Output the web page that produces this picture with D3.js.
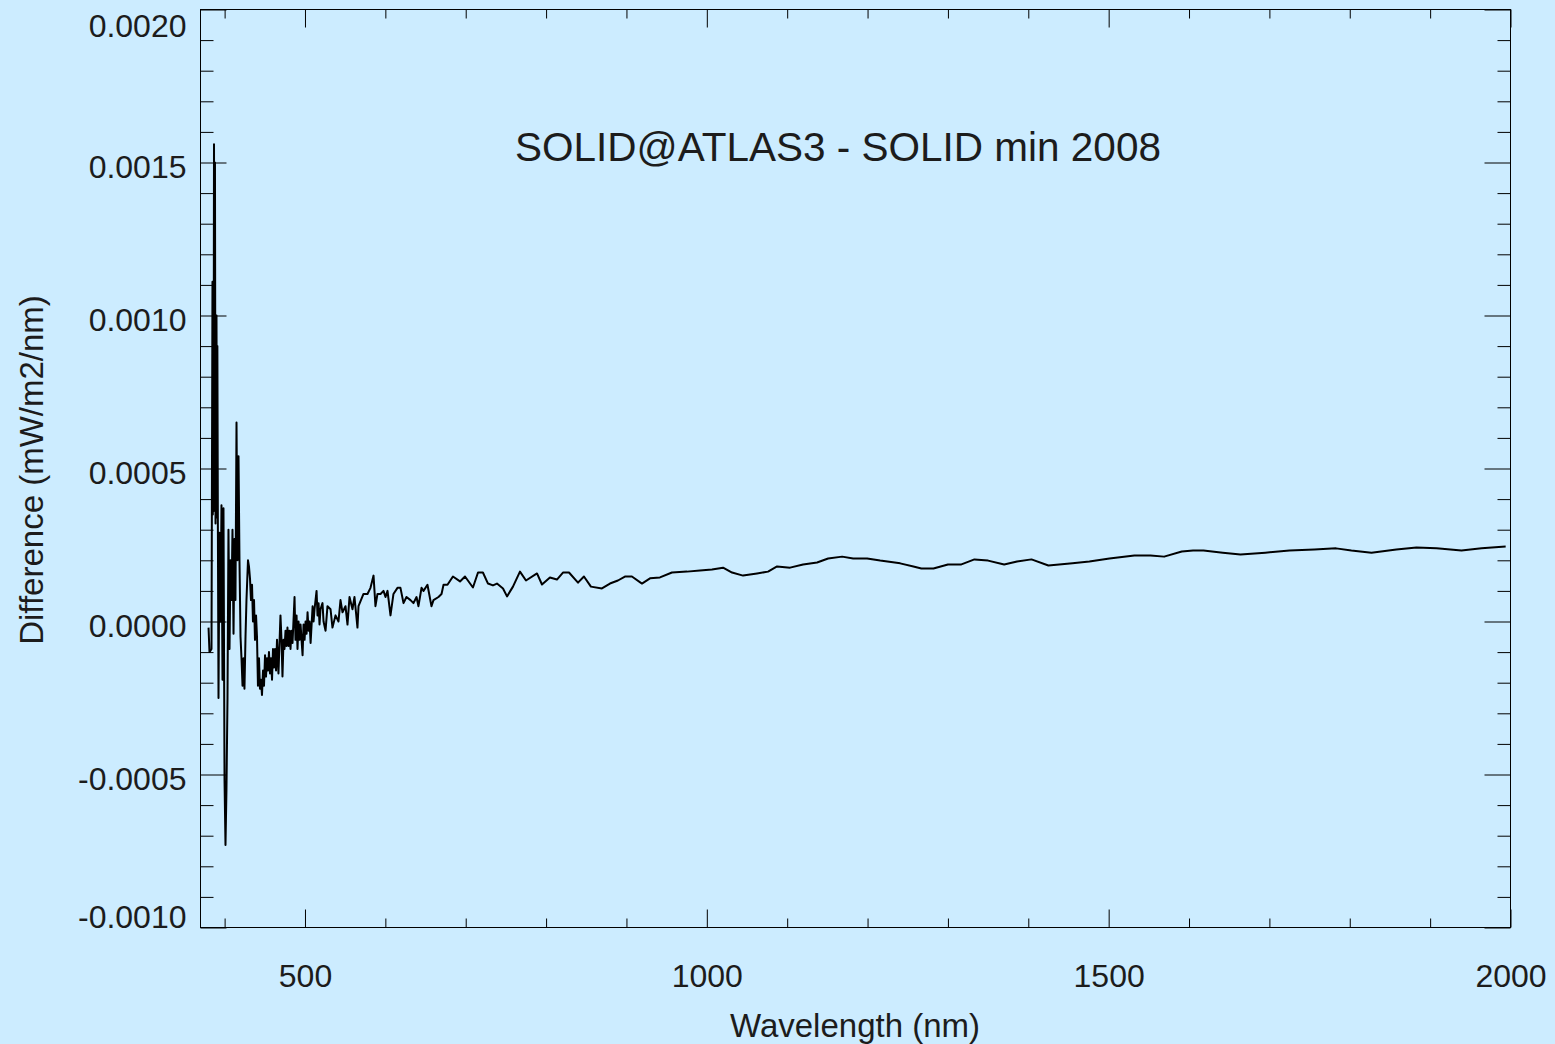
<!DOCTYPE html>
<html>
<head>
<meta charset="utf-8">
<script src="https://cdn.jsdelivr.net/npm/d3@7"></script>
<style>
  html, body { margin: 0; padding: 0; background: #ccecff; }
  svg { display: block; }
</style>
</head>
<body>
<svg id="chart" width="1555" height="1044"></svg>
<script>
// ---------------- data ----------------
const wavelength = [
  380.0, 381.2, 383.7, 384.9, 385.3, 385.7, 386.2, 386.8, 387.4, 388.0,
  388.7, 389.3, 389.9, 390.5, 391.0, 391.6, 392.4, 393.6, 394.9, 396.1,
  397.4, 398.6, 399.9, 401.1, 402.3,
  403.6, 404.8, 406.1, 407.3, 408.6, 409.8, 411.1, 412.3, 413.5, 414.8,
  416.0, 417.3, 418.5, 419.8, 421.0, 422.3, 423.5, 424.7, 426.0, 427.2,
  429.1, 430.3, 431.6, 432.8, 434.1, 435.3, 436.6, 437.8, 439.1, 440.3,
  441.5, 442.8, 444.0, 445.3, 446.5, 447.8, 449.0, 450.3, 451.5, 452.7,
  454.0, 455.2, 456.5, 457.7, 459.0, 460.2, 461.5, 462.7, 464.0, 465.2,
  467.0, 469.5, 470.8, 472.0, 473.3, 474.5, 475.8, 477.0, 478.2, 479.5,
  480.7, 482.0, 483.2, 484.5, 487.0, 488.2, 489.5, 490.7, 492.0, 493.2,
  494.5, 497.0, 498.2, 499.5, 500.7, 502.0, 503.2, 504.5, 505.7, 507.0,
  509.5, 510.7, 511.9, 514.4, 515.6, 516.9, 518.1, 519.3, 521.8, 523.1,
  525.6, 528.0, 531.8, 534.2, 538.0, 541.7, 544.2, 546.7, 550.4, 552.9,
  555.4, 559.1, 561.6, 565.3, 566.6, 572.8, 577.8, 581.5, 585.3, 587.7,
  590.2, 594.0, 597.7, 600.2, 602.7, 606.4, 610.1, 615.1, 618.8, 622.6,
  626.3, 631.3, 635.0, 638.8, 641.2, 645.0, 647.5, 652.4, 657.4, 659.9,
  666.1, 669.9, 672.4, 677.3, 684.1, 692.9, 699.1, 709.0, 715.3, 721.4,
  727.7, 733.9, 738.9, 746.4, 751.4, 758.8, 767.5, 775.0, 788.7, 794.9,
  804.8, 813.5, 821.0, 828.5, 839.7, 847.1, 855.8, 869.5, 879.5, 889.4,
  898.1, 906.8, 919.3, 929.3, 941.7, 956.6, 975.3, 991.5, 1006.4, 1020.2,
  1031.4, 1045.1, 1062.5, 1076.2, 1087.4, 1103.6, 1119.8, 1137.2, 1150.9, 1168.4,
  1182.1, 1199.5, 1215.7, 1240.6, 1257, 1267, 1282, 1300, 1316, 1333,
  1350, 1370, 1386, 1404, 1425, 1455, 1476, 1501, 1532, 1552,
  1569, 1591, 1605, 1618, 1642, 1664, 1695, 1725, 1756, 1783,
  1802, 1827, 1858, 1883, 1908, 1939, 1964, 1994
];
const difference = [
  -0.00002, -0.00010, -0.00009, 0.00111, 0.00035, 0.00095, 0.00036, 0.00156, 0.00088, 0.00150,
  0.00032, 0.00092, 0.00100, 0.00034, 0.00090, 0.00033, -0.00025, 0.00029, 0.00000, 0.00038,
  -0.00019, 0.00037, -0.00052, -0.00073, -0.00055,
  -0.00025, 0.00030, -0.00009, 0.00020, 0.00007, 0.00030, -0.00004, 0.00027, 0.00007, 0.00065,
  0.00020, 0.00054, 0.00020, -0.00005, -0.00012, -0.00021, -0.00012, -0.00022, -0.00005, 0.00007,
  0.00020, 0.00018, 0.00014, 0.00007, 0.00012, 0.00000, 0.00007, -0.00006, 0.00002, -0.00005,
  -0.00021, -0.00012, -0.00022, -0.00019, -0.00024, -0.00016, -0.00021, -0.00011, -0.00018, -0.00012,
  -0.00016, -0.00010, -0.00017, -0.00012, -0.00019, -0.00009, -0.00015, -0.00009, -0.00016, -0.00006,
  -0.00017, 0.00002, -0.00006, -0.00018, -0.00006, -0.00009, -0.00003, -0.00008, -0.00002, -0.00008,
  -0.00003, -0.00009, -0.00003, -0.00007, 0.00008, -0.00006, 0.00002, -0.00009, 0.00000, -0.00006,
  -0.00001, -0.00011, -0.00001, -0.00006, 0.00000, -0.00004, 0.00003, -0.00003, 0.00000, -0.00007,
  0.00005, 0.00000, 0.00004, 0.00010, 0.00002, 0.00006, -0.00001, 0.00004, 0.00006, 0.00000,
  -0.00003, 0.00005, 0.00004, -0.00002, 0.00002, 0.00000, 0.00007, 0.00003, 0.00005, -0.00001,
  0.00008, 0.00004, 0.00008, -0.00002, 0.00005, 0.00009, 0.00009, 0.00011, 0.00015, 0.00005,
  0.00009, 0.00009, 0.00010, 0.00008, 0.00010, 0.00002, 0.00009, 0.00011, 0.00011, 0.00006,
  0.00008, 0.00007, 0.00006, 0.00008, 0.00005, 0.00011, 0.00010, 0.00012, 0.00005, 0.00007,
  0.00008, 0.00009, 0.00012, 0.00012, 0.000147, 0.000131, 0.000147, 0.000111, 0.000160, 0.000160,
  0.000124, 0.000118, 0.000124, 0.000108, 0.000082, 0.000114, 0.000163, 0.000134, 0.000157, 0.000121,
  0.000144, 0.000137, 0.000160, 0.000160, 0.000127, 0.000147, 0.000114, 0.000108, 0.000124, 0.000134,
  0.000147, 0.000147, 0.000124, 0.000141, 0.000144, 0.000160, 0.000163, 0.000167, 0.000170, 0.000176,
  0.000160, 0.000150, 0.000157, 0.000163, 0.000180, 0.000176, 0.000186, 0.000193, 0.000206, 0.000212,
  0.000206, 0.000206, 0.000199, 0.000190, 0.000180, 0.000173, 0.000173, 0.000186, 0.000186, 0.000203,
  0.000199, 0.000186, 0.000196, 0.000203, 0.000183, 0.000190, 0.000196, 0.000206, 0.000216, 0.000216,
  0.000212, 0.000229, 0.000232, 0.000232, 0.000225, 0.000219, 0.000225, 0.000232, 0.000235, 0.000239,
  0.000232, 0.000225, 0.000235, 0.000242, 0.000239, 0.000232, 0.000239, 0.000245
];
const xDomain = [370, 2000];
const yDomain = [-0.0010, 0.0020];
const xMajorTicks = [500, 1000, 1500, 2000];
const xMinorTicks = [400, 600, 700, 800, 900, 1100, 1200, 1300, 1400, 1600, 1700, 1800, 1900];
const yMajorTicks = [-0.0010, -0.0005, 0.0000, 0.0005, 0.0010, 0.0015, 0.0020];
const yMinorTicks = [-0.0009, -0.0008, -0.0007, -0.0006, -0.0004, -0.0003, -0.0002, -0.0001,
  0.0001, 0.0002, 0.0003, 0.0004, 0.0006, 0.0007, 0.0008, 0.0009,
  0.0011, 0.0012, 0.0013, 0.0014, 0.0016, 0.0017, 0.0018, 0.0019];
const titleText = "SOLID@ATLAS3 - SOLID min 2008";
const xLabelText = "Wavelength (nm)";
const yLabelText = "Difference (mW/m2/nm)";

// ---------------- layout ----------------
const W = 1555, H = 1044;
const plot = { left: 200.5, right: 1510.5, top: 9.5, bottom: 927.5 };
const FONT = "'Liberation Sans', Arial, Helvetica, sans-serif";
const TEXT = "#1c1c1c";

const svg = d3.select("#chart");
svg.append("rect").attr("width", W).attr("height", H).attr("fill", "#ccecff");

const x = d3.scaleLinear().domain(xDomain).range([plot.left, plot.right]);
const y = d3.scaleLinear().domain(yDomain).range([plot.bottom, plot.top]);

const fmt = d3.formatLocale({ decimal: ".", thousands: ",", grouping: [3], currency: ["", ""], minus: "-" }).format(".4f");

function styleAxis(g) {
  g.select(".domain").remove();
  g.selectAll(".tick line").attr("stroke", "#000").attr("stroke-width", 1);
}

// bottom axis (labels + major ticks)
const gBottom = svg.append("g").attr("transform", `translate(0,${plot.bottom})`)
  .call(d3.axisBottom(x).tickValues(xMajorTicks).tickSize(-18).tickFormat(d3.format("d")));
styleAxis(gBottom);
gBottom.selectAll(".tick text")
  .attr("y", 37).attr("dy", "0.71em")
  .attr("font-family", FONT).attr("font-size", 32).attr("fill", TEXT);
svg.append("g").attr("transform", `translate(0,${plot.bottom})`)
  .call(d3.axisBottom(x).tickValues(xMinorTicks).tickSize(-9).tickFormat(""))
  .call(styleAxis);

// top axis
svg.append("g").attr("transform", `translate(0,${plot.top})`)
  .call(d3.axisTop(x).tickValues(xMajorTicks).tickSize(-18).tickFormat(""))
  .call(styleAxis);
svg.append("g").attr("transform", `translate(0,${plot.top})`)
  .call(d3.axisTop(x).tickValues(xMinorTicks).tickSize(-9).tickFormat(""))
  .call(styleAxis);

// left axis
const gLeft = svg.append("g").attr("transform", `translate(${plot.left},0)`)
  .call(d3.axisLeft(y).tickValues(yMajorTicks).tickSize(-26).tickPadding(14).tickFormat(fmt));
styleAxis(gLeft);
gLeft.selectAll(".tick text")
  .attr("font-family", FONT).attr("font-size", 32).attr("fill", TEXT)
  .attr("dy", (d) => {
    if (d === yDomain[0]) return "0em";
    if (d === yDomain[1]) return "0.85em";
    return "0.48em";
  });
svg.append("g").attr("transform", `translate(${plot.left},0)`)
  .call(d3.axisLeft(y).tickValues(yMinorTicks).tickSize(-13).tickFormat(""))
  .call(styleAxis);

// right axis
svg.append("g").attr("transform", `translate(${plot.right},0)`)
  .call(d3.axisRight(y).tickValues(yMajorTicks).tickSize(-26).tickFormat(""))
  .call(styleAxis);
svg.append("g").attr("transform", `translate(${plot.right},0)`)
  .call(d3.axisRight(y).tickValues(yMinorTicks).tickSize(-13).tickFormat(""))
  .call(styleAxis);

// frame
svg.append("rect")
  .attr("x", plot.left).attr("y", plot.top)
  .attr("width", plot.right - plot.left).attr("height", plot.bottom - plot.top)
  .attr("fill", "none").attr("stroke", "#000").attr("stroke-width", 1);

// data line
const pts = wavelength.map((w, i) => [w, difference[i]]);
svg.append("path")
  .datum(pts)
  .attr("fill", "none")
  .attr("stroke", "#000")
  .attr("stroke-width", 2)
  .attr("stroke-linejoin", "round")
  .attr("d", d3.line().x(d => x(d[0])).y(d => y(d[1])));

// title
svg.append("text")
  .attr("x", 838).attr("y", 161)
  .attr("text-anchor", "middle")
  .attr("font-family", FONT).attr("font-size", 40.5).attr("fill", TEXT)
  .text(titleText);

// axis titles
svg.append("text")
  .attr("x", 855).attr("y", 1037)
  .attr("text-anchor", "middle")
  .attr("font-family", FONT).attr("font-size", 33).attr("fill", TEXT)
  .text(xLabelText);

svg.append("text")
  .attr("transform", "translate(43,470) rotate(-90)")
  .attr("text-anchor", "middle")
  .attr("font-family", FONT).attr("font-size", 33).attr("fill", TEXT)
  .text(yLabelText);
</script>
</body>
</html>
